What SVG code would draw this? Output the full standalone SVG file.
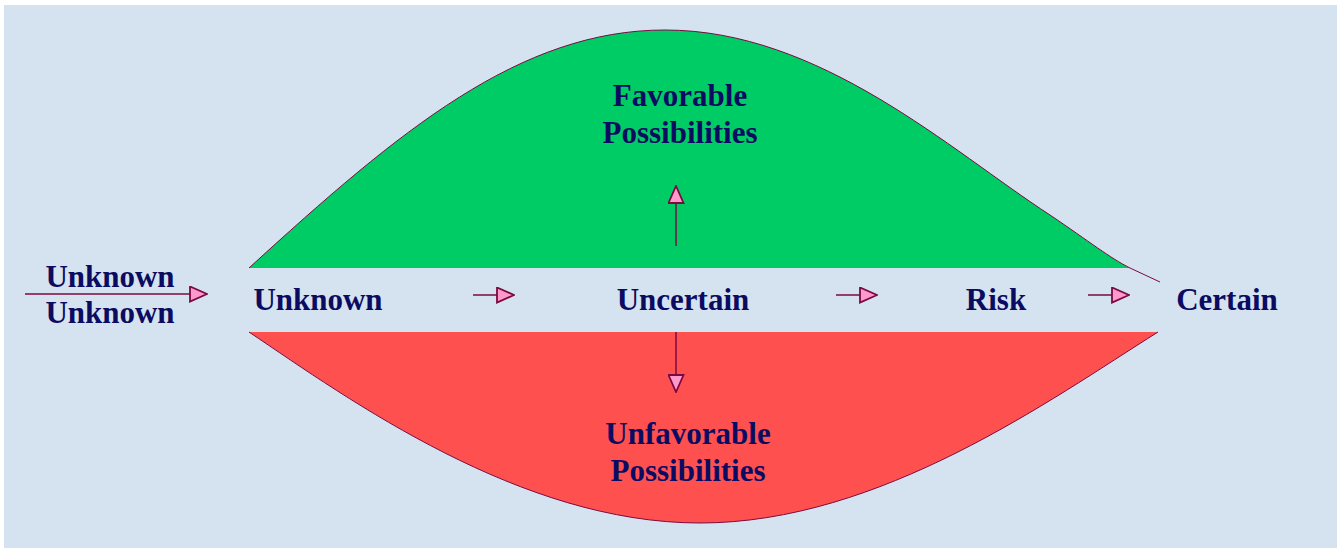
<svg xmlns="http://www.w3.org/2000/svg" width="1337" height="548" viewBox="0 0 1337 548">
<style>
.t{font-family:"Liberation Serif","Times New Roman",serif;font-weight:bold;font-size:31px;fill:#0b0b62;text-anchor:middle}
.c{stroke:#7a0a40;stroke-width:1.5;fill:none}
</style>
<defs>
<marker id="ah" viewBox="0 0 19 17" refX="1" refY="8.5" markerWidth="19" markerHeight="17" markerUnits="userSpaceOnUse" orient="auto">
<path d="M1,1 L18,8.5 L1,16 Z" fill="#ff99cc" stroke="#7a0a40" stroke-width="1.8"/>
</marker>
</defs>
<rect x="0" y="0" width="1337" height="548" fill="#ffffff"/>
<rect x="4" y="5" width="1333" height="543" fill="#d5e3f0"/>
<g id="favorable">
<path d="M249,268 C400,130 520,30 665,30 C820,30 950,150 1050,215 C1090,242 1110,258 1130,268 Z" fill="#00cc66"/>
<path d="M249,268 C400,130 520,30 665,30 C820,30 950,150 1050,215 C1090,242 1110,258 1130,268 L1160,282" fill="none" stroke="#7a0a40" stroke-width="1"/>
<text class="t" x="680" y="106">Favorable</text>
<text class="t" x="680" y="143">Possibilities</text>
</g>
<g id="unfavorable">
<path d="M249,332 L1158,332 C1050,400 880,523 700,523 C520,523 350,400 249,332 Z" fill="#ff5050"/>
<path d="M1158,332 C1050,400 880,523 700,523 C520,523 350,400 249,332" fill="none" stroke="#7a0a40" stroke-width="1"/>
<text class="t" x="688" y="444">Unfavorable</text>
<text class="t" x="688" y="481">Possibilities</text>
</g>
<g id="unknown-unknown"><text class="t" x="110" y="287">Unknown</text><text class="t" x="110" y="323">Unknown</text></g>
<g id="unknown"><text class="t" x="318" y="310">Unknown</text></g>
<g id="uncertain"><text class="t" x="683" y="310">Uncertain</text></g>
<g id="risk"><text class="t" x="996" y="310">Risk</text></g>
<g id="certain"><text class="t" x="1227" y="310">Certain</text></g>
<g id="connectors">
<line class="c" x1="25" y1="294" x2="190" y2="294" marker-end="url(#ah)"/>
<line class="c" x1="473" y1="295" x2="497" y2="295" marker-end="url(#ah)"/>
<line class="c" x1="836" y1="295" x2="860" y2="295" marker-end="url(#ah)"/>
<line class="c" x1="1088" y1="295" x2="1112" y2="295" marker-end="url(#ah)"/>
<line class="c" x1="676" y1="246" x2="676" y2="203" marker-end="url(#ah)"/>
<line class="c" x1="676" y1="332" x2="676" y2="375" marker-end="url(#ah)"/>
</g>
</svg>
